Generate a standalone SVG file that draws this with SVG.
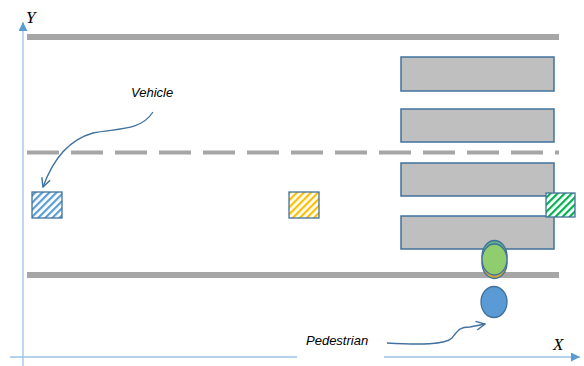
<svg xmlns="http://www.w3.org/2000/svg" width="584" height="366" viewBox="0 0 584 366">
  <style>
    .road { stroke: #a6a6a6; stroke-width: 6; fill: none; }
    .lane { stroke: #a6a6a6; stroke-width: 4; fill: none; stroke-dasharray: 32 12; }
    .axis { stroke: #9dc3e6; stroke-width: 1.3; fill: none; }
    .crossing { fill: #bfbfbf; stroke: #41719c; stroke-width: 1.5; }
    .car { stroke: #41719c; stroke-width: 1.3; }
    .callout { stroke: #41719c; stroke-width: 1.3; fill: none; }
    .label { font-family: "Liberation Sans", Arial, sans-serif; font-style: italic; font-size: 13px; fill: #000; }
    .axlabel { font-family: "Liberation Serif", "Times New Roman", serif; font-style: italic; font-size: 17px; fill: #000; }
    .person { stroke: #41719c; stroke-width: 1.3; }
  </style>
  <defs>
    <pattern id="hatchBlue" patternUnits="userSpaceOnUse" width="5" height="5" patternTransform="rotate(45)">
      <rect width="5" height="5" fill="#fff"/>
      <rect width="2.2" height="5" fill="#5b9bd5"/>
    </pattern>
    <pattern id="hatchYellow" patternUnits="userSpaceOnUse" width="5" height="5" patternTransform="rotate(45)">
      <rect width="5" height="5" fill="#fff"/>
      <rect width="2.2" height="5" fill="#ffc000"/>
    </pattern>
    <pattern id="hatchGreen" patternUnits="userSpaceOnUse" width="5" height="5" patternTransform="rotate(45)">
      <rect width="5" height="5" fill="#fff"/>
      <rect width="2.2" height="5" fill="#00b050"/>
    </pattern>
    <marker id="axisHead" viewBox="0 0 10 10" refX="10" refY="5" markerWidth="9" markerHeight="9" markerUnits="userSpaceOnUse" orient="auto">
      <path d="M0,0 L10,5 L0,10 Z" fill="#5b9bd5"/>
    </marker>
    <marker id="openHead" viewBox="0 0 10 10" refX="9" refY="5" markerWidth="11" markerHeight="11" markerUnits="userSpaceOnUse" orient="auto">
      <path d="M1,1 L9,5 L1,9" fill="none" stroke="#41719c" stroke-width="1.3"/>
    </marker>
  </defs>

  <!-- coordinate axes -->
  <g id="axes">
    <line class="axis" x1="23" y1="366" x2="23" y2="22" marker-end="url(#axisHead)"/>
    <line class="axis" x1="10" y1="357" x2="297" y2="357"/>
    <line class="axis" x1="384" y1="357" x2="580" y2="357" marker-end="url(#axisHead)"/>
    <text class="axlabel" x="26" y="23">Y</text>
    <text class="axlabel" x="553" y="350">X</text>
  </g>

  <!-- road edges and lane divider -->
  <g id="road">
    <line class="road" x1="27" y1="37" x2="559" y2="37"/>
    <line class="road" x1="27" y1="275" x2="559" y2="275"/>
    <line class="lane" x1="27" y1="152.5" x2="559" y2="152.5"/>
  </g>

  <!-- zebra crossing -->
  <g id="crosswalk">
    <rect class="crossing" x="401" y="57" width="153" height="34"/>
    <rect class="crossing" x="401" y="109" width="153" height="33"/>
    <rect class="crossing" x="401" y="163" width="153" height="33"/>
    <rect class="crossing" x="401" y="216" width="153" height="33"/>
  </g>

  <!-- vehicles -->
  <g id="vehicle-blue">
    <rect class="car" x="32" y="192" width="30" height="26" fill="url(#hatchBlue)"/>
  </g>
  <g id="vehicle-yellow">
    <rect class="car" x="289" y="192" width="30" height="26" fill="url(#hatchYellow)"/>
  </g>
  <g id="vehicle-green">
    <rect class="car" x="546" y="193" width="29" height="24" fill="url(#hatchGreen)"/>
  </g>

  <!-- pedestrian positions -->
  <g id="pedestrian-track">
    <ellipse class="person" cx="494.5" cy="263" rx="12.5" ry="15.5" fill="#c9a53f"/>
    <ellipse class="person" cx="494.5" cy="256.5" rx="12.5" ry="16" fill="#5fae8a"/>
    <ellipse class="person" cx="494.5" cy="259.5" rx="12.5" ry="15.5" fill="#92cf6e" fill-opacity="0.95"/>
  </g>
  <g id="pedestrian">
    <ellipse class="person" cx="494" cy="302" rx="13" ry="15.5" fill="#5b9bd5"/>
  </g>

  <!-- labels -->
  <g id="label-vehicle">
    <text class="label" x="131" y="97">Vehicle</text>
  </g>
  <g id="label-pedestrian">
    <text class="label" x="306" y="345">Pedestrian</text>
  </g>

  <!-- callout connectors -->
  <g id="connectors">
    <path class="callout" d="M153,112 C140,132 115,128 93,133 C68,140 52,162 43,187" marker-end="url(#openHead)"/>
    <path class="callout" d="M387,343 C420,345 445,345 452,338 C458,330 460,327 470,327 L485,324" marker-end="url(#openHead)"/>
  </g>
</svg>
